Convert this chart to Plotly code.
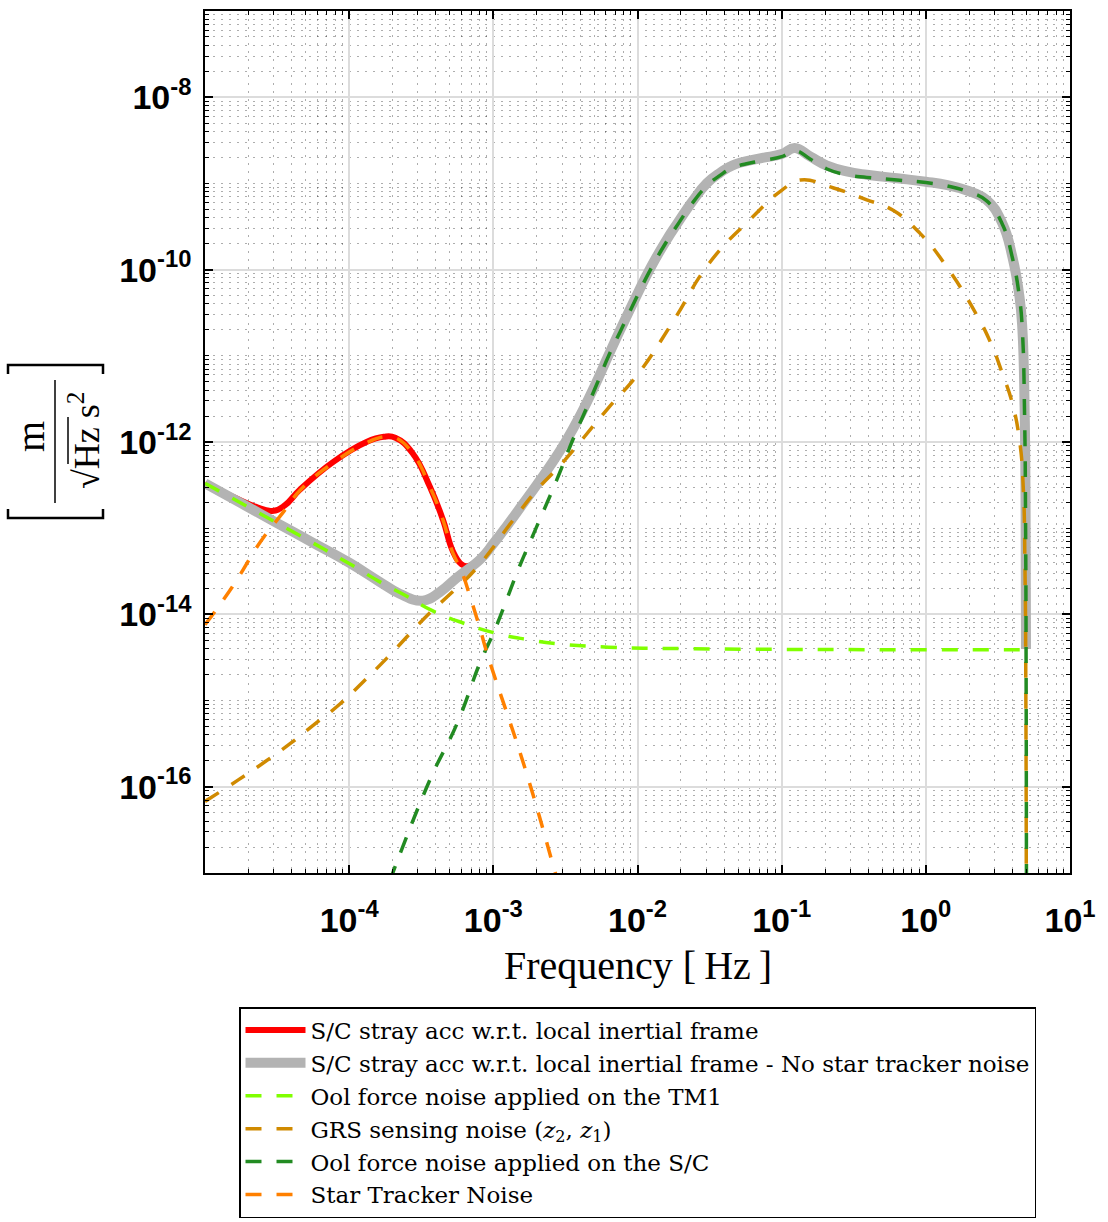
import numpy as np
import plotly.graph_objects as go

# ---- data (log10 of frequency [Hz], log10 of amplitude) ----
red_logf = [-5.0, -4.8, -4.65, -4.535, -4.45, -4.34, -4.11, -3.88, -3.76, -3.68, -3.56, -3.44,
            -3.35, -3.28, -3.22, -3.18, -3.09, -3.0, -2.9, -2.8, -2.7, -2.6, -2.5, -2.4, -2.3,
            -2.2, -2.12, -2.0, -1.91, -1.8, -1.73, -1.62, -1.52, -1.43, -1.34, -1.15, -1.0,
            -0.91, -0.8, -0.69, -0.55, -0.41, -0.2, 0.0, 0.15, 0.28, 0.42, 0.53, 0.60, 0.65,
            0.67, 0.685, 0.692, 0.695]
red_logy = [-12.48, -12.64, -12.75, -12.80, -12.74, -12.55, -12.23, -12.0, -11.94, -11.95, -12.13,
            -12.52, -12.90, -13.27, -13.42, -13.44, -13.35, -13.18, -12.96, -12.73, -12.50,
            -12.26, -12.0, -11.70, -11.36, -10.99, -10.70, -10.28, -9.98, -9.66, -9.48, -9.21,
            -9.0, -8.88, -8.79, -8.71, -8.66, -8.59, -8.69, -8.79, -8.86, -8.90, -8.94, -8.98,
            -9.02, -9.08, -9.19, -9.46, -9.85, -10.32, -10.70, -11.6, -12.8, -14.4]

gray_logf = [-5.0, -4.75, -4.5, -4.25, -4.0, -3.79, -3.65, -3.49, -3.37, -3.25, -3.09, -3.0,
             -2.9, -2.8, -2.7, -2.6, -2.5, -2.4, -2.3, -2.2, -2.12, -2.0, -1.91, -1.8, -1.73,
             -1.62, -1.52, -1.43, -1.34, -1.15, -1.0, -0.91, -0.8, -0.69, -0.55, -0.41, -0.2,
             0.0, 0.15, 0.28, 0.42, 0.53, 0.60, 0.65, 0.67, 0.685, 0.692, 0.695]
gray_logy = [-12.48, -12.71, -12.94, -13.17, -13.40, -13.62, -13.76, -13.84, -13.74, -13.57,
             -13.36, -13.18, -12.96, -12.73, -12.50, -12.26, -12.0, -11.70, -11.36, -10.99,
             -10.70, -10.28, -9.98, -9.66, -9.48, -9.21, -9.0, -8.88, -8.79, -8.71, -8.66, -8.59,
             -8.69, -8.79, -8.86, -8.90, -8.94, -8.98, -9.02, -9.08, -9.19, -9.46, -9.85, -10.32,
             -10.70, -11.6, -12.8, -14.4]

tm_logf = [-5.0, -4.5, -4.0, -3.79, -3.6, -3.42, -3.21, -2.98, -2.77, -2.56, -2.2, -1.5, 0.0, 0.69]
tm_logy = [-12.48, -12.94, -13.41, -13.62, -13.79, -13.96, -14.10, -14.22, -14.29, -14.34,
           -14.38, -14.40, -14.41, -14.41]

grs_logf = [-5.0, -4.769, -4.584, -4.41, -4.237, -4.064, -3.902, -3.74, -3.44, -3.29, -3.11,
            -2.86, -2.70, -2.52, -2.2, -2.0, -1.76, -1.50, -1.22, -1.0, -0.87, -0.645, -0.41,
            -0.23, -0.04, 0.146, 0.354, 0.45, 0.53, 0.60, 0.65, 0.675, 0.688, 0.694, 0.697]
grs_logy = [-16.17, -15.92, -15.71, -15.50, -15.27, -15.04, -14.78, -14.51, -13.98, -13.75,
            -13.45, -12.90, -12.56, -12.24, -11.60, -11.22, -10.62, -9.92, -9.42, -9.08, -8.96,
            -9.05, -9.19, -9.31, -9.58, -9.97, -10.53, -10.85, -11.2, -11.55, -11.98, -12.5,
            -13.5, -15.0, -17.5]

sc_logf = [-3.72, -3.44, -3.25, -3.09, -2.99, -2.82, -2.73, -2.56, -2.45, -2.3, -2.2, -2.12,
           -2.0, -1.91, -1.8, -1.73, -1.62, -1.52, -1.43, -1.34, -1.15, -1.0, -0.91, -0.8,
           -0.69, -0.55, -0.41, -0.2, 0.0, 0.15, 0.28, 0.42, 0.53, 0.60, 0.65, 0.67, 0.685,
           0.692, 0.696, 0.698]
sc_logy = [-17.1, -15.92, -15.26, -14.55, -14.18, -13.45, -13.10, -12.44, -11.98, -11.40,
           -11.0, -10.72, -10.30, -10.00, -9.68, -9.50, -9.23, -9.03, -8.91, -8.82, -8.74,
           -8.69, -8.62, -8.72, -8.83, -8.90, -8.93, -8.96, -8.99, -9.03, -9.09, -9.20, -9.47,
           -9.86, -10.33, -10.72, -11.7, -13.0, -15.0, -17.5]

st_logf = [-5.0, -4.81, -4.62, -4.46, -4.34, -4.11, -3.88, -3.76, -3.68, -3.56, -3.44, -3.35,
           -3.28, -3.22, -3.16, -3.09, -3.04, -2.77, -2.57, -2.5]
st_logy = [-14.12, -13.68, -13.17, -12.82, -12.56, -12.24, -12.01, -11.94, -11.95, -12.13,
           -12.52, -12.90, -13.29, -13.50, -13.80, -14.18, -14.47, -15.84, -17.0, -17.4]

x_tick_exp = [-4, -3, -2, -1, 0, 1]
y_tick_exp = [-16, -14, -12, -10, -8]

names = [
    "S/C stray acc w.r.t. local inertial frame",
    "S/C stray acc w.r.t. local inertial frame - No star tracker noise",
    "Ool force noise applied on the TM1",
    "GRS sensing noise (<i>z</i><sub>2</sub>, <i>z</i><sub>1</sub>)",
    "Ool force noise applied on the S/C",
    "Star Tracker Noise",
]

# ---- figure ----
W, H = 1108, 1222
L, R, T, B = 205, 1070, 11, 873


def px(xp):
    return (xp - L) / (R - L)


def py(yp):
    return (B - yp) / (B - T)


fig = go.Figure()
DASH = "16px,15px"
styles = [
    (red_logf, red_logy, "#FF0000", 6, "solid"),
    (gray_logf, gray_logy, "#B3B3B3", 10, "solid"),
    (tm_logf, tm_logy, "#80FF00", 3.5, DASH),
    (grs_logf, grs_logy, "#D08A00", 3.5, DASH),
    (sc_logf, sc_logy, "#228B22", 3.5, DASH),
    (st_logf, st_logy, "#FF8000", 3.5, DASH),
]
for nm, (lf, ly, col, w, d) in zip(names, styles):
    fig.add_trace(go.Scatter(
        x=np.power(10.0, lf), y=np.power(10.0, ly), mode="lines", name=nm,
        line=dict(color=col, width=w, dash=d, shape="spline", smoothing=1.3),
    ))

x_minor = [n * 10.0 ** k for k in range(-5, 1) for n in range(2, 10)]
y_minor = [n * 10.0 ** k for k in range(-17, -7) for n in range(1, 10)
           if not (n == 1 and k % 2 == 0)]

tickfont = dict(family="Liberation Sans", size=34, color="black", weight="bold")
common = dict(
    showline=True, linecolor="black", linewidth=1.5, mirror="allticks",
    ticks="inside", ticklen=8, tickwidth=1.5, tickcolor="black",
    showgrid=True, gridcolor="#DCDCDC", gridwidth=1.5,
    zeroline=False, tickfont=tickfont,
)
minor_style = dict(ticks="inside", ticklen=4, tickwidth=1, tickcolor="black", showgrid=True,
                   gridcolor="rgba(0,0,0,0.32)", griddash="2px,6px", gridwidth=1)
fig.update_xaxes(
    type="log", range=[-5, 1],
    tickmode="array", tickvals=[10.0 ** e for e in range(-5, 2)],
    ticktext=[""] + [f"10<sup>{e}</sup>" for e in x_tick_exp],
    ticklabelstandoff=16,
    minor=dict(tickmode="array", tickvals=x_minor, **minor_style),
    **common,
)
fig.update_yaxes(
    type="log", range=[-17, -7],
    tickmode="array", tickvals=[10.0 ** e for e in y_tick_exp],
    ticktext=[f"10<sup>{e}</sup>" for e in y_tick_exp],
    ticklabelstandoff=5,
    minor=dict(tickmode="array", tickvals=y_minor, **minor_style),
    **common,
)

serif = "Liberation Serif"
ann = []
ann.append(dict(text="Frequency [\u2009Hz\u2009]", x=0.5, y=py(965), xref="paper", yref="paper",
                showarrow=False, xanchor="center", yanchor="middle",
                font=dict(family=serif, size=40, color="black")))
ann.append(dict(text="m", x=px(30), y=py(437), xref="paper", yref="paper", textangle=-90,
                showarrow=False, xanchor="center", yanchor="middle",
                font=dict(family=serif, size=40, color="black")))
ann.append(dict(text="\u221AHz s<sup>2</sup>", x=px(84), y=py(440), xref="paper", yref="paper",
                textangle=-90, showarrow=False, xanchor="center", yanchor="middle",
                font=dict(family=serif, size=36, color="black")))

shapes = []
shapes.append(dict(type="line", xref="paper", yref="paper", x0=px(55), x1=px(55),
                   y0=py(380), y1=py(503), line=dict(color="black", width=1.5)))
shapes.append(dict(type="line", xref="paper", yref="paper", x0=px(68), x1=px(68),
                   y0=py(417), y1=py(464), line=dict(color="black", width=1.5)))
for yb, ye in [(365, 374), (518, 509)]:
    shapes.append(dict(type="path", xref="paper", yref="paper",
                       path=f"M {px(8)},{py(ye)} L {px(8)},{py(yb)} L {px(103)},{py(yb)} L {px(103)},{py(ye)}",
                       line=dict(color="black", width=2.5)))

fig.update_layout(
    width=W, height=H,
    margin=dict(l=L, r=W - R, t=T, b=H - B, autoexpand=False),
    plot_bgcolor="white", paper_bgcolor="white",
    annotations=ann, shapes=shapes,
    showlegend=True,
    legend=dict(x=px(239), y=py(1007), xanchor="left", yanchor="top",
                bordercolor="black", borderwidth=1.5, bgcolor="white",
                font=dict(family="DejaVu Serif", size=23, color="black"),
                itemwidth=60, tracegroupgap=0),
)

fig.write_html("out.html")
